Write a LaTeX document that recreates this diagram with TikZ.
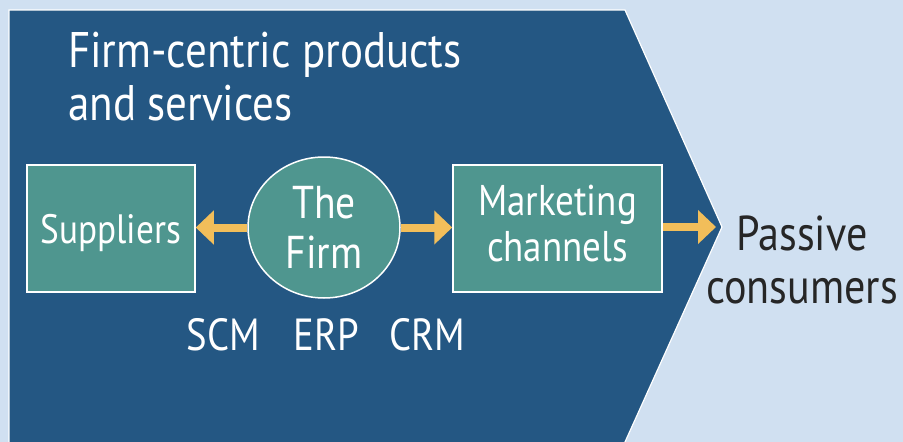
\documentclass[tikz,border=0pt]{standalone}
\usepackage{fontspec}
\setmainfont[FakeStretch=0.86]{PT Sans}
\usetikzlibrary{arrows.meta,shapes.geometric}

\definecolor{paleblue}{HTML}{D0E0F1}
\definecolor{deepblue}{HTML}{245783}
\definecolor{tealfill}{HTML}{4F968F}
\definecolor{amber}{HTML}{F2BE5A}
\definecolor{inkgray}{HTML}{262626}

\tikzset{
  stagebox/.style={draw=white, line width=1.5pt, fill=tealfill, text=white,
    align=center, inner sep=0pt, font=\fontsize{43}{46}\selectfont},
  firmoval/.style={ellipse, draw=white, line width=1.5pt, fill=tealfill, text=white,
    align=center, inner sep=0pt, font=\fontsize{46}{50}\selectfont},
  flow/.style={draw=amber, line width=8pt,
    -{Triangle[width=33pt,length=18pt]}},
  whitelabel/.style={text=white, inner sep=0pt},
}

\begin{document}
\begin{tikzpicture}[x=1pt, y=-1pt]
  % canvas
  \fill[paleblue] (0,0) rectangle (903,442);
  \useasboundingbox (0,0) rectangle (903,442);

  % chevron panel
  \fill[deepblue] (9,442) -- (9,10) -- (625,10) -- (722,227) -- (625,442) -- cycle;
  \draw[white, line width=1.2pt, line join=miter]
    (9,442) -- (9,10) -- (625,10) -- (722,227) -- (625,442);

  % heading
  \node[whitelabel, anchor=base west, align=left,
        font=\fontsize{50}{53}\selectfont] (title) at (68,120)
    {Firm-centric products\\and services};

  % value chain
  \node[stagebox, font=\fontsize{41}{46}\selectfont, text depth=0pt,
        minimum width=168pt, minimum height=127pt] (sup) at (111,228.5) {Suppliers};
  \node[firmoval, minimum width=152pt, minimum height=141pt] (firm) at (324,227.5) {The\\Firm};
  \node[stagebox, text depth=10pt, minimum width=209pt, minimum height=127pt] (mkt) at (557.5,228.5) {Marketing\\channels};
  \coordinate (tip) at (716,227);

  \draw[flow] (firm.west) -- (sup.east |- firm.west);
  \draw[flow] (firm.east) -- (mkt.west |- firm.east);
  \draw[flow] (mkt.east |- tip) -- (tip);

  % system labels
  \node[whitelabel, anchor=base, font=\fontsize{45}{50}\selectfont] (scm) at (223.5,350) {SCM};
  \node[whitelabel, anchor=base, font=\fontsize{45}{50}\selectfont] (erp) at (326,350) {ERP};
  \node[whitelabel, anchor=base, font=\fontsize{45}{50}\selectfont] (crm) at (427,350) {CRM};

  % end customers
  \node[text=inkgray, inner sep=0pt, anchor=base, align=center,
        font=\fontsize{49}{53}\selectfont] (cons) at (802,303) {Passive\\consumers};
\end{tikzpicture}
\end{document}
